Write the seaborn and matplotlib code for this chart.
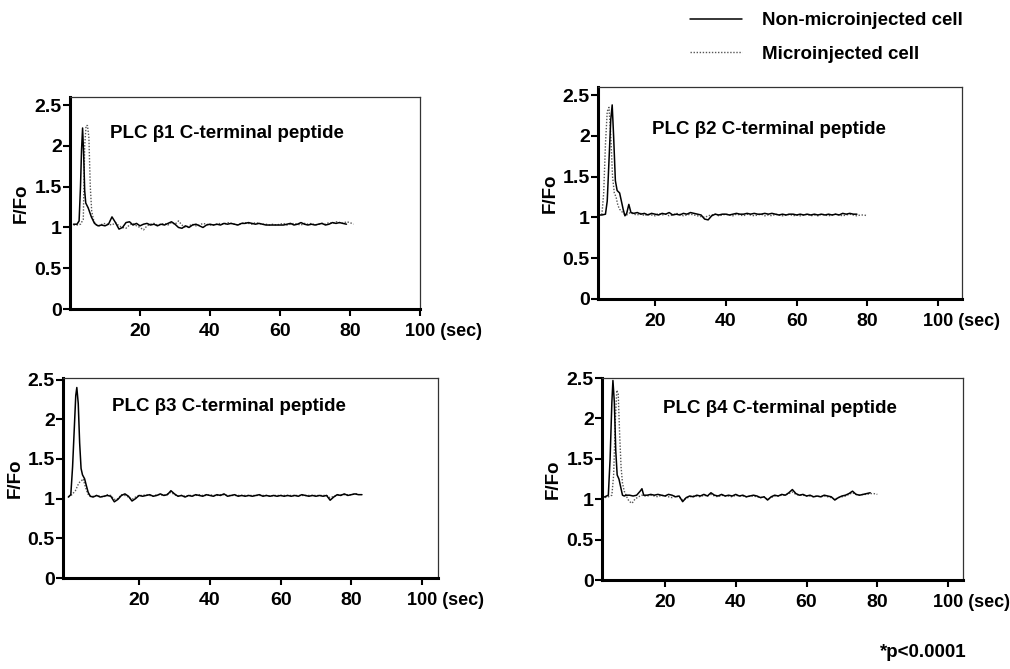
import matplotlib
matplotlib.use('Agg')
import matplotlib.pyplot as plt
import seaborn as sns
import pandas as pd

# ---- data ----
panel_titles = ['PLC \u03b21 C-terminal peptide', 'PLC \u03b22 C-terminal peptide',
                'PLC \u03b23 C-terminal peptide', 'PLC \u03b24 C-terminal peptide']
series_names = ['Non-microinjected cell', 'Microinjected cell']
x_ticks = [20, 40, 60, 80, 100]
y_ticks = [0, 0.5, 1, 1.5, 2, 2.5]
y_ticklabels = ['0', '0.5', '1', '1.5', '2', '2.5']

# panel 1
p1_solid_t = [1, 2, 2.6, 3.0, 3.3, 3.6, 3.9, 4.2, 4.5, 5.2, 6.1, 7, 8, 9]
p1_solid_f = [1.04, 1.04, 1.08, 1.5, 1.95, 2.22, 1.9, 1.45, 1.3, 1.24, 1.13, 1.05, 1.02, 1.03]
p1_solid_base = [1.02, 1.04, 1.13, 1.06, 0.98, 1.0, 1.06, 1.07, 1.03, 1.05,
                 1.02, 1.04, 1.05, 1.03, 1.04, 1.02, 1.04, 1.03, 1.05, 1.07,
                 1.04, 1.0, 0.99, 1.02, 1.0, 1.03, 1.04, 1.02, 1.0, 1.03,
                 1.04, 1.03, 1.04, 1.03, 1.05, 1.04, 1.05, 1.04, 1.03, 1.05,
                 1.05, 1.06, 1.05, 1.04, 1.05, 1.04, 1.03, 1.03, 1.03, 1.03,
                 1.03, 1.03, 1.04, 1.05, 1.03, 1.04, 1.06, 1.04, 1.03, 1.04,
                 1.03, 1.04, 1.05, 1.03, 1.04, 1.06, 1.05, 1.06, 1.05, 1.04]
p1_dot_t = [1, 2, 3, 3.8, 4.2, 4.6, 5.0, 5.4, 5.8, 6.2, 6.8, 7.5, 8.5, 9.5]
p1_dot_f = [1.03, 1.03, 1.04, 1.1, 2.0, 2.25, 2.25, 2.1, 1.5, 1.2, 1.08, 1.03, 1.02, 1.05]
p1_dot_base = [1.04, 1.03, 1.06, 1.02, 1.0, 0.99, 1.03, 1.05, 1.02, 1.0,
               0.97, 1.02, 1.04, 1.05, 1.03, 1.04, 1.05, 1.03, 1.06, 1.04,
               1.08, 1.03, 1.0, 1.02, 1.04, 1.02, 1.03, 1.05, 1.04, 1.03,
               1.03, 1.04, 1.05, 1.04, 1.06, 1.05, 1.04, 1.03, 1.05, 1.06,
               1.05, 1.04, 1.06, 1.05, 1.04, 1.04, 1.03, 1.04, 1.03, 1.04,
               1.05, 1.03, 1.04, 1.05, 1.04, 1.03, 1.05, 1.04, 1.05, 1.03,
               1.04, 1.05, 1.04, 1.06, 1.05, 1.07, 1.06, 1.05, 1.07, 1.06, 1.04]

# panel 2
p2_solid_t = [4, 5, 6, 6.5, 7, 7.5, 7.9, 8.3, 8.8, 9.3, 10, 10.5, 11, 11.5, 12, 12.6, 13.2, 14]
p2_solid_f = [1.03, 1.03, 1.04, 1.2, 1.7, 2.2, 2.38, 2.0, 1.45, 1.33, 1.3, 1.2, 1.1, 1.02,
              1.05, 1.16, 1.06, 1.05]
p2_solid_base = [1.06, 1.04, 1.05, 1.03, 1.05, 1.04, 1.03, 1.05, 1.04, 1.06,
                 1.03, 1.04, 1.03, 1.05, 1.04, 1.06, 1.05, 1.04, 1.03, 0.98,
                 0.97, 1.02, 1.04, 1.03, 1.04, 1.04, 1.03, 1.04, 1.05, 1.04,
                 1.04, 1.05, 1.04, 1.05, 1.04, 1.04, 1.05, 1.04, 1.05, 1.04,
                 1.03, 1.04, 1.03, 1.04, 1.04, 1.03, 1.04, 1.03, 1.04, 1.03,
                 1.04, 1.03, 1.04, 1.03, 1.04, 1.03, 1.04, 1.03, 1.05, 1.04,
                 1.05, 1.04, 1.04]
p2_dot_t = [4, 5, 5.5, 6, 6.5, 7, 7.5, 8, 8.5, 9, 9.5, 10, 10.5, 11, 12, 13, 14]
p2_dot_f = [1.03, 1.04, 1.3, 1.9, 2.3, 2.35, 2.0, 1.5, 1.3, 1.25, 1.15, 1.1, 1.08, 1.05,
            1.03, 1.06, 1.04]
p2_dot_base = [1.03, 1.05, 1.02, 1.04, 1.03, 1.02, 1.05, 1.03, 1.04, 1.02,
               1.03, 1.05, 1.04, 1.02, 1.03, 1.04, 1.03, 1.02, 1.01, 1.0,
               1.02, 1.03, 1.04, 1.02, 1.03, 1.04, 1.03, 1.02, 1.04, 1.03,
               1.02, 1.04, 1.03, 1.02, 1.03, 1.04, 1.02, 1.03, 1.02, 1.04,
               1.03, 1.02, 1.03, 1.04, 1.02, 1.03, 1.02, 1.03, 1.04, 1.02,
               1.03, 1.02, 1.04, 1.03, 1.02, 1.03, 1.04, 1.03, 1.02, 1.03,
               1.04, 1.03, 1.02, 1.03, 1.03, 1.02]

# panel 3
p3_solid_t = [0, 0.7, 1.2, 1.7, 2.1, 2.4, 2.8, 3.2, 3.6, 4.0, 4.6, 5.0, 5.6, 6.2, 7, 8, 9]
p3_solid_f = [1.02, 1.05, 1.4, 1.9, 2.3, 2.4, 2.2, 1.7, 1.38, 1.3, 1.25, 1.18, 1.08, 1.03,
              1.02, 1.04, 1.02]
p3_solid_base = [1.03, 1.04, 1.03, 0.96, 0.99, 1.04, 1.06, 1.03, 0.97, 1.0,
                 1.04, 1.03, 1.04, 1.05, 1.03, 1.04, 1.06, 1.04, 1.05, 1.1,
                 1.06, 1.03, 1.04, 1.02, 1.04, 1.03, 1.05, 1.04, 1.03, 1.05,
                 1.04, 1.03, 1.05, 1.04, 1.06, 1.03, 1.04, 1.05, 1.03, 1.04,
                 1.03, 1.04, 1.03, 1.04, 1.05, 1.03, 1.04, 1.03, 1.04, 1.03,
                 1.04, 1.03, 1.04, 1.03, 1.04, 1.03, 1.05, 1.04, 1.03, 1.04,
                 1.03, 1.04, 1.03, 1.04, 0.98, 1.02, 1.05, 1.04, 1.06, 1.04,
                 1.05, 1.06, 1.05, 1.05]
p3_dot_t = [0, 1, 2, 3, 3.6, 4.2, 4.8, 5.5, 6.5, 7, 8, 9]
p3_dot_f = [1.02, 1.05, 1.1, 1.2, 1.22, 1.25, 1.15, 1.06, 1.02, 1.03, 1.04, 1.03]
p3_dot_base = [1.02, 1.05, 1.04, 0.99, 1.0, 1.05, 1.04, 1.02, 0.99, 1.02,
               1.04, 1.04, 1.05, 1.04, 1.03, 1.05, 1.05, 1.04, 1.06, 1.08,
               1.05, 1.03, 1.04, 1.03, 1.04, 1.04, 1.04, 1.05, 1.04, 1.04,
               1.05, 1.04, 1.04, 1.05, 1.05, 1.04, 1.04, 1.04, 1.04, 1.04,
               1.04, 1.04, 1.04, 1.04, 1.04, 1.04, 1.04, 1.03, 1.04, 1.04,
               1.04, 1.04, 1.04, 1.04, 1.04, 1.04, 1.04, 1.04, 1.04, 1.04,
               1.04, 1.04, 1.04, 1.04, 1.01, 1.03, 1.04, 1.05, 1.05, 1.05,
               1.05, 1.06, 1.06]

# panel 4
p4_solid_t = [2.2, 3, 4, 4.5, 5, 5.3, 5.7, 6.1, 6.5, 7, 7.5, 8, 8.5, 9, 10, 11, 12, 13, 13.5, 14]
p4_solid_f = [1.02, 1.03, 1.05, 1.5, 2.2, 2.47, 2.2, 1.6, 1.3, 1.25, 1.15, 1.05, 1.04, 1.05,
              1.05, 1.04, 1.05, 1.1, 1.13, 1.05]
p4_solid_base = [1.05, 1.06, 1.05, 1.06, 1.05, 1.04, 1.06, 1.05, 1.03, 1.04,
                 0.97, 1.02, 1.04, 1.03, 1.05, 1.04, 1.06, 1.04, 1.08, 1.05,
                 1.04, 1.06, 1.04, 1.05, 1.04, 1.06, 1.04, 1.05, 1.03, 1.04,
                 1.05, 1.04, 1.02, 1.03, 0.99, 1.03, 1.05, 1.04, 1.06, 1.05,
                 1.08, 1.12, 1.07, 1.05, 1.06, 1.04, 1.05, 1.03, 1.04, 1.03,
                 1.05, 1.04, 1.03, 0.99, 1.02, 1.04, 1.05, 1.07, 1.1, 1.06,
                 1.05, 1.06, 1.07, 1.08]
p4_dot_t = [2.2, 3, 4, 5, 5.5, 6, 6.4, 6.8, 7.2, 7.6, 8, 8.5, 9, 9.5, 10, 10.7, 11.5, 12.5,
            13.5, 14]
p4_dot_f = [1.02, 1.02, 1.03, 1.05, 1.3, 2.0, 2.35, 2.3, 1.8, 1.4, 1.2, 1.1, 1.05, 1.0, 0.97,
            0.95, 1.0, 1.03, 1.05, 1.04]
p4_dot_base = [1.04, 1.05, 1.04, 1.03, 1.05, 1.04, 1.03, 1.02, 1.04, 1.03,
               0.99, 1.01, 1.03, 1.04, 1.04, 1.03, 1.05, 1.04, 1.06, 1.04,
               1.03, 1.05, 1.04, 1.04, 1.03, 1.05, 1.04, 1.04, 1.03, 1.04,
               1.04, 1.03, 1.02, 1.03, 1.0, 1.02, 1.04, 1.04, 1.05, 1.05,
               1.07, 1.09, 1.06, 1.05, 1.05, 1.04, 1.04, 1.03, 1.04, 1.03,
               1.04, 1.03, 1.02, 1.0, 1.02, 1.03, 1.04, 1.06, 1.08, 1.06,
               1.05, 1.06, 1.06, 1.07, 1.07, 1.06]

panels = [
    (p1_solid_t, p1_solid_f, p1_solid_base, p1_dot_t, p1_dot_f, p1_dot_base),
    (p2_solid_t, p2_solid_f, p2_solid_base, p2_dot_t, p2_dot_f, p2_dot_base),
    (p3_solid_t, p3_solid_f, p3_solid_base, p3_dot_t, p3_dot_f, p3_dot_base),
    (p4_solid_t, p4_solid_f, p4_solid_base, p4_dot_t, p4_dot_f, p4_dot_base),
]

# ---- layout ----
axes_rects = [[0.0693, 0.5381, 0.3465, 0.3169],
              [0.5921, 0.5531, 0.3604, 0.3169],
              [0.0624, 0.1360, 0.3713, 0.2990],
              [0.5960, 0.1330, 0.3574, 0.3019]]
x_limits = [(0, 95.6), (3.9, 106.7), (-1.5, 104.5), (2.2, 104.2)]
y_limits = [(0, 2.6), (0, 2.6), (0, 2.52), (0, 2.5)]
title_pos = [(0.114, 0.83), (0.148, 0.80), (0.13, 0.855), (0.169, 0.847)]

sns.set_theme(style='white')
plt.rcParams['font.family'] = ['Liberation Sans', 'DejaVu Sans']
plt.rcParams['font.weight'] = 'bold'
plt.rcParams['axes.labelweight'] = 'bold'
plt.rcParams['text.color'] = 'black'
plt.rcParams['axes.labelcolor'] = 'black'

fig = plt.figure(figsize=(10.1, 6.69), dpi=100)


def series_frame(t_peak, f_peak, base):
    # the peak part is sampled finely, the baseline once a second after it
    start = int(round(t_peak[-1])) + 1
    t = list(t_peak) + list(range(start, start + len(base)))
    return pd.DataFrame({'t': t, 'f': list(f_peak) + list(base)})


for i, (st, sf, sb, dt, dfv, db) in enumerate(panels):
    ax = fig.add_axes(axes_rects[i])
    dot = series_frame(dt, dfv, db)
    sol = series_frame(st, sf, sb)
    sns.lineplot(data=dot, x='t', y='f', ax=ax, color='#555555', linestyle=(0, (1, 1.2)),
                 linewidth=1.0, label=series_names[1], legend=False, estimator=None, sort=False)
    sns.lineplot(data=sol, x='t', y='f', ax=ax, color='black', linewidth=1.1,
                 label=series_names[0], legend=False, estimator=None, sort=False)
    ax.set_xlim(*x_limits[i])
    ax.set_ylim(*y_limits[i])
    ax.set_xticks(x_ticks)
    ax.set_xticklabels(['20', '40', '60', '80', ''])
    ax.set_yticks(y_ticks)
    ax.set_yticklabels(y_ticklabels)
    ax.tick_params(axis='both', direction='out', length=5, width=1.5, labelsize=14,
                   bottom=True, left=True, colors='black')
    ax.tick_params(axis='x', pad=5)
    ax.tick_params(axis='y', pad=1)
    ax.set_xlabel('')
    ax.set_ylabel('F/Fo', fontsize=13.5, labelpad=3)
    for side in ['left', 'bottom']:
        ax.spines[side].set_linewidth(2.2)
        ax.spines[side].set_color('black')
    for side in ['top', 'right']:
        ax.spines[side].set_linewidth(0.9)
        ax.spines[side].set_color('#333333')
    ax.annotate('100 (sec)', xy=(100, 0), xycoords='data', xytext=(-10.8, -9.8),
                textcoords='offset points', ha='left', va='top', fontsize=13,
                fontweight='bold', annotation_clip=False)
    ax.text(title_pos[i][0], title_pos[i][1], panel_titles[i], transform=ax.transAxes,
            fontsize=13.5, fontweight='bold', va='center', ha='left')
    if i == 0:
        handles, labels = ax.get_legend_handles_labels()

# legend at the top right
order = [labels.index(n) for n in series_names]
fig.legend([handles[k] for k in order], series_names, loc='center left',
           bbox_to_anchor=(0.674, 0.944), frameon=False, fontsize=13.5,
           handlelength=2.75, handletextpad=1.1, labelspacing=0.85, borderpad=0)

fig.text(0.871, 0.024, '*p<0.0001', fontsize=13.5, fontweight='bold', ha='left', va='center')

plt.savefig('out.png', dpi=100)
